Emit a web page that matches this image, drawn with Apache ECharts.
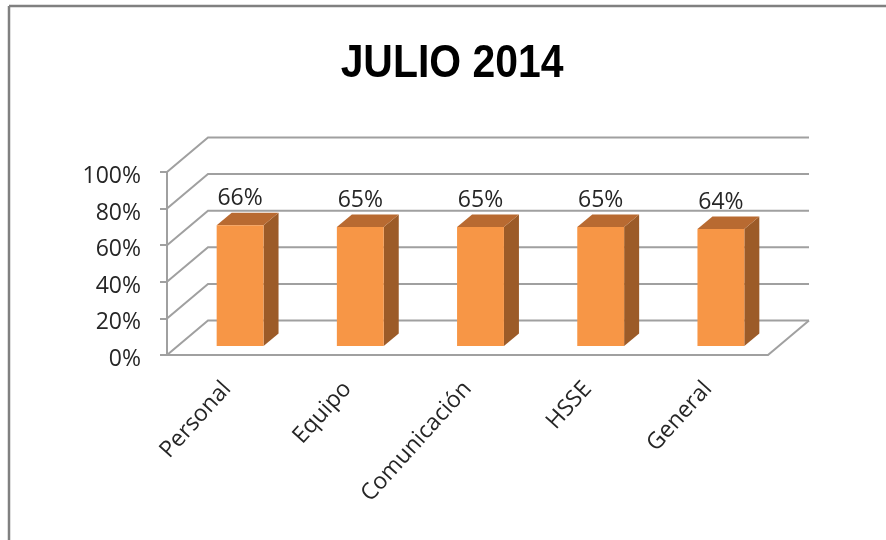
<!DOCTYPE html>
<html><head><meta charset="utf-8">
<script src="https://cdn.jsdelivr.net/npm/echarts@6/dist/echarts.min.js"></script>
<style>html,body{margin:0;padding:0;background:#fff}#c{width:886px;height:540px}</style>
</head><body><div id="c"></div>
<script>
const chartTitle = 'JULIO 2014';
const categories = ['Personal', 'Equipo', 'Comunicación', 'HSSE', 'General'];
const values = [0.66, 0.65, 0.65, 0.65, 0.64];
const yTicks = [0, 0.2, 0.4, 0.6, 0.8, 1.0];

const DEPTH = [41, -34.5];
const BAR_SHIFT = [13, -9];
const BAR_DEPTH = [15, -12.5];
const BAR_W = 0.39;
const FONT = '"Open Sans", "Liberation Sans", sans-serif';
const GRID_COLOR = '#a0a0a0';
const pct = v => Math.round(v * 100) + '%';

const chart = echarts.init(document.getElementById('c'), null, {renderer: 'canvas'});
const option = {
  backgroundColor: '#fff',
  animation: false,
  graphic: [
    {type: 'line', shape: {x1: 9, y1: 6, x2: 886, y2: 6}, style: {stroke: '#808080', lineWidth: 2.5}},
    {type: 'line', shape: {x1: 9, y1: 6, x2: 9, y2: 540}, style: {stroke: '#808080', lineWidth: 2.5}},
    {type: 'text', x: 452, y: 64, scaleX: 0.87, style: {text: chartTitle, align: 'center', verticalAlign: 'middle',
      fontFamily: '"Liberation Sans", sans-serif', fontWeight: 'bold', fontSize: 47, fill: '#000'}}
  ],
  grid: {left: 167, right: 118, top: 172, bottom: 185},
  xAxis: {
    type: 'category', data: categories,
    axisLine: {lineStyle: {color: GRID_COLOR, width: 2}},
    axisTick: {length: 6, lineStyle: {color: GRID_COLOR, width: 2}},
    axisLabel: {rotate: 48, margin: 30, fontSize: 23, color: '#262626', fontFamily: FONT}
  },
  yAxis: {
    type: 'value', min: 0, max: 1, interval: 0.2,
    axisLine: {show: true, lineStyle: {color: GRID_COLOR, width: 2}},
    axisTick: {show: true, length: 7, lineStyle: {color: GRID_COLOR, width: 2}},
    splitLine: {show: false},
    axisLabel: {
      formatter: v => '{a|' + pct(v) + '}', margin: 26,
      rich: {a: {fontSize: 23, color: '#262626', fontFamily: FONT, padding: [9, 0, 0, 0]}}
    }
  },
  series: [
    {
      type: 'custom', z: 1, silent: true,
      data: yTicks.map(v => [0, v]),
      renderItem: function (params, api) {
        const v = api.value(1);
        const p = api.coord([0, v]);
        const bw = api.size([1, 0])[0];
        const left = p[0] - bw / 2;
        const right = api.coord([categories.length - 1, v])[0] + bw / 2;
        const y = p[1];
        const children = [{
          type: 'polyline',
          shape: {points: [[left, y], [left + DEPTH[0], y + DEPTH[1]], [right + DEPTH[0], y + DEPTH[1]]]},
          style: {stroke: GRID_COLOR, lineWidth: 2, fill: null}
        }];
        if (v === 0) {
          children.push({
            type: 'line',
            shape: {x1: right, y1: y, x2: right + DEPTH[0], y2: y + DEPTH[1]},
            style: {stroke: GRID_COLOR, lineWidth: 2}
          });
        }
        return {type: 'group', children: children};
      }
    },
    {
      type: 'custom', z: 3, silent: true,
      data: values.map((v, i) => [i, v]),
      renderItem: function (params, api) {
        const i = api.value(0), v = api.value(1);
        const c0 = api.coord([i, 0]), c1 = api.coord([i, v]);
        const bw = api.size([1, 0])[0] * BAR_W;
        const x0 = c0[0] - bw / 2 + BAR_SHIFT[0], x1 = x0 + bw;
        const yb = c0[1] + BAR_SHIFT[1], yt = c1[1] + BAR_SHIFT[1];
        const dx = BAR_DEPTH[0], dy = BAR_DEPTH[1];
        return {
          type: 'group',
          children: [
            {type: 'polygon', shape: {points: [[x1, yt], [x1 + dx, yt + dy], [x1 + dx, yb + dy], [x1, yb]]}, style: {fill: '#9c5b28'}},
            {type: 'polygon', shape: {points: [[x0, yt], [x0 + dx, yt + dy], [x1 + dx, yt + dy], [x1, yt]]}, style: {fill: '#b86a31'}},
            {type: 'rect', shape: {x: x0, y: yt, width: bw, height: yb - yt}, style: {fill: '#f79646'}},
            {type: 'text', style: {text: pct(v), x: (x0 + x1) / 2, y: yt + dy - 14, align: 'center', verticalAlign: 'middle', fontSize: 23, fontFamily: FONT, fill: '#262626'}}
          ]
        };
      }
    }
  ]
};
chart.setOption(option);
</script>
</body></html>
